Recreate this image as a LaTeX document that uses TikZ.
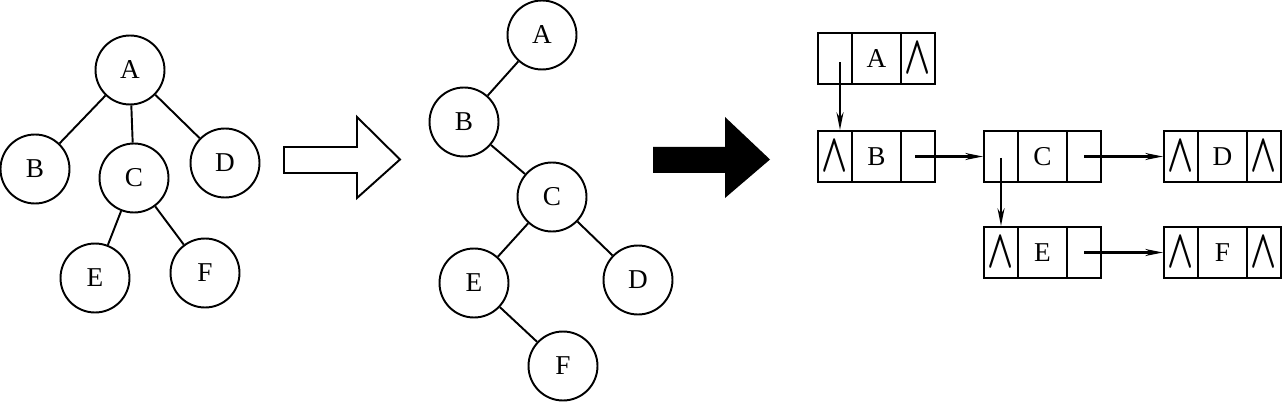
\documentclass[tikz,border=0pt]{standalone}
\usepackage{amsmath}
\usepackage{fontspec}
\usepackage{graphicx}
\setmainfont{Liberation Serif}
\usetikzlibrary{arrows.meta}
\newcommand\nilsym{\makebox[0pt]{\scalebox{1.35}[2.15]{$\boldsymbol{\wedge}$}}}
\begin{document}
\begin{tikzpicture}[x=0.02cm,y=-0.02cm,
  every node/.style={font=\fontsize{15.5}{18}\selectfont},
  tnode/.style={draw, circle, line width=1.1pt, minimum size=1.38cm, inner sep=0pt},
  tedge/.style={line width=1.1pt},
  cellS/.style={draw, line width=1.3pt, minimum width=0.68cm, minimum height=1.02cm, inner sep=0pt},
  cellM/.style={draw, line width=1.3pt, minimum width=0.98cm, minimum height=1.02cm, inner sep=0pt},
  ptr/.style={line width=1.2pt, -{Stealth[length=10pt,width=4pt]}},
  bigarrow/.style={line width=1.1pt, line join=miter}]
\useasboundingbox (0,0) rectangle (1282,402);
% ---- tree 1
\node[tnode] (a1) at (130,70) {A};
\node[tnode] (b1) at (35,169) {B};
\node[tnode] (c1) at (134,178) {C};
\node[tnode] (d1) at (225,163) {D};
\node[tnode] (e1) at (95,278) {E};
\node[tnode] (f1) at (205,273) {F};
\draw[tedge] (a1) -- (b1);
\draw[tedge] (a1) -- (c1);
\draw[tedge] (a1) -- (d1);
\draw[tedge] (c1) -- (e1);
\draw[tedge] (c1) -- (f1);
% ---- hollow arrow
\draw[bigarrow] (284,147) -- (357,147) -- (357,117) -- (400,159.5) -- (357,198) -- (357,173) -- (284,173) -- cycle;
% ---- tree 2
\node[tnode] (a2) at (542,35) {A};
\node[tnode] (b2) at (464,122) {B};
\node[tnode] (c2) at (552,197) {C};
\node[tnode] (d2) at (638,280) {D};
\node[tnode] (e2) at (474,283) {E};
\node[tnode] (f2) at (563,366) {F};
\draw[tedge] (a2) -- (b2);
\draw[tedge] (b2) -- (c2);
\draw[tedge] (c2) -- (e2);
\draw[tedge] (c2) -- (d2);
\draw[tedge] (e2) -- (f2);
% ---- black arrow
\fill (653,147) -- (725,147) -- (725,117) -- (770,159.5) -- (725,198) -- (725,173) -- (653,173) -- cycle;
% ---- linked representation
% A
\node[cellS] (Al) at (835,58.3) {};
\node[cellM] (Am) at (876.5,58.3) {A};
\node[cellS] (Ar) at (918,58.3) {\nilsym};
% B
\node[cellS] (Bl) at (835,156.5) {\nilsym};
\node[cellM] (Bm) at (876.5,156.5) {B};
\node[cellS] (Br) at (918,156.5) {};
% C
\node[cellS] (Cl) at (1001,156.5) {};
\node[cellM] (Cm) at (1042.5,156.5) {C};
\node[cellS] (Cr) at (1084,156.5) {};
% D
\node[cellS] (Dl) at (1181,156.5) {\nilsym};
\node[cellM] (Dm) at (1222.5,156.5) {D};
\node[cellS] (Dr) at (1264,156.5) {\nilsym};
% E
\node[cellS] (El) at (1001,252.5) {\nilsym};
\node[cellM] (Em) at (1042.5,252.5) {E};
\node[cellS] (Er) at (1084,252.5) {};
% F
\node[cellS] (Fl) at (1181,252.5) {\nilsym};
\node[cellM] (Fm) at (1222.5,252.5) {F};
\node[cellS] (Fr) at (1264,252.5) {\nilsym};
% pointers
\coordinate (pA) at ([xshift=0.1cm,yshift=-0.08cm]Al.center);
\draw[ptr] (pA) -- (pA |- Bl.north);
\draw[ptr] ([xshift=-0.06cm]Br.center) -- (Cl.west);
\coordinate (pC) at ([yshift=-0.03cm]Cl.center);
\draw[ptr] (pC) -- (pC |- El.north);
\draw[ptr] (Cr.center) -- (Dl.west);
\draw[ptr] (Er.center) -- (Fl.west);
\end{tikzpicture}
\end{document}
